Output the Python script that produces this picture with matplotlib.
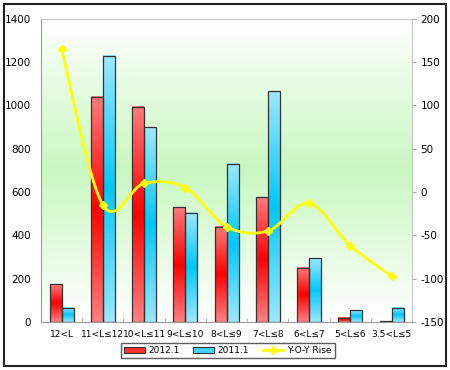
import numpy as np
import matplotlib
matplotlib.use("Agg")
import matplotlib.pyplot as plt
from matplotlib.colors import LinearSegmentedColormap
from matplotlib.patches import Rectangle
from matplotlib.lines import Line2D

plt.rcParams["axes.unicode_minus"] = False

## data
categories = ["12<L", "11<L≤12", "10<L≤11", "9<L≤10", "8<L≤9",
              "7<L≤8", "6<L≤7", "5<L≤6", "3.5<L≤5"]
sales_2012 = [175, 1040, 995, 530, 440, 575, 250, 20, 2]
sales_2011 = [65, 1230, 900, 505, 730, 1065, 295, 55, 65]
yoy_rise = [165, -15, 10, 5, -40, -45, -13, -62, -97]

## helpers
def smooth(xs, ys, n=20):
    # catmull-rom curve through the points (like excel's smoothed line)
    p = np.column_stack([xs, ys]).astype(float)
    p = np.vstack([p[0], p, p[-1]])
    out = []
    t = np.linspace(0, 1, n)[:, None]
    for i in range(1, len(p) - 2):
        p0, p1, p2, p3 = p[i - 1], p[i], p[i + 1], p[i + 2]
        seg = 0.5 * ((2 * p1) + (-p0 + p2) * t + (2 * p0 - 5 * p1 + 4 * p2 - p3) * t**2
                     + (-p0 + 3 * p1 - 3 * p2 + p3) * t**3)
        out.append(seg)
    out = np.vstack(out)
    return out[:, 0], out[:, 1]

def grad_bar(ax, x0, w, h, cmap):
    img = np.linspace(0, 1, 100).reshape(-1, 1)
    ax.imshow(img, cmap=cmap, extent=[x0, x0 + w, 0, h], aspect="auto",
              origin="upper", zorder=2, interpolation="bilinear")
    ax.add_patch(Rectangle((x0, 0), w, h, fill=False, edgecolor="#333333",
                           lw=0.9, zorder=3))

red_cmap = LinearSegmentedColormap.from_list("r", ["#ff7a7a", "#ff0000", "#ff8080"])
blue_cmap = LinearSegmentedColormap.from_list("b", ["#9be8ff", "#00c8f8", "#9be8ff"])
bg_cmap = LinearSegmentedColormap.from_list("g", ["#ffffff", "#c8f7c0", "#ffffff"])

## plot
fig = plt.figure(figsize=(4.5, 3.7), dpi=100)
fig.patches.append(Rectangle((0.008, 0.01), 0.984, 0.98, transform=fig.transFigure,
                             fill=False, edgecolor="#222222", lw=1.5))
ax = fig.add_axes([0.091, 0.130, 0.825, 0.819])

ax.imshow(np.linspace(0, 1, 200).reshape(-1, 1), cmap=bg_cmap, extent=[0, 1, 0, 1],
          transform=ax.transAxes, aspect="auto", zorder=0)

x = np.arange(len(categories))
w = 0.29
for i in range(len(categories)):
    grad_bar(ax, x[i] - w, w, sales_2012[i], red_cmap)
    grad_bar(ax, x[i], w, sales_2011[i], blue_cmap)

ax.set_xlim(-0.5, len(categories) - 0.5)
ax.set_ylim(0, 1400)
ax.set_yticks(range(0, 1401, 200))
ax.set_xticks(x)
ax.set_xticklabels(categories, fontsize=6.5)
ax.set_xticks(np.arange(-0.5, len(categories), 1), minor=True)
ax.tick_params(axis="x", which="major", length=0, pad=6)
ax.tick_params(axis="x", which="minor", length=3, direction="in", color="#aaaaaa")
ax.tick_params(axis="y", length=0, labelsize=7.5, pad=7)
for s in ax.spines.values():
    s.set_color("#c8c8c8")
ax.spines["left"].set_color("#999999")
ax.spines["bottom"].set_color("#999999")

ax2 = ax.twinx()
ax2.set_ylim(-150, 200)
ax2.set_yticks(range(-150, 201, 50))
ax2.tick_params(axis="y", length=3, color="#aaaaaa", labelsize=7.5, pad=3)
for s in ax2.spines.values():
    s.set_visible(False)
sx, sy = smooth(x, yoy_rise)
ax2.plot(sx, sy, color="#ffff00", lw=2, zorder=5)
ax2.plot(x, yoy_rise, linestyle="none", marker="D", ms=4, color="#ffff00", zorder=6)

handles = [Rectangle((0, 0), 1, 1, facecolor="#ff3030", edgecolor="#333333", lw=0.8),
           Rectangle((0, 0), 1, 1, facecolor="#40d4ff", edgecolor="#333333", lw=0.8),
           Line2D([], [], color="#ffff00", lw=2, marker="D", ms=4)]
fig.legend(handles, ["2012.1", "2011.1", "Y-O-Y Rise"], loc="center",
           bbox_to_anchor=(0.506, 0.052), ncol=3, fontsize=6.5, frameon=True,
           fancybox=False, edgecolor="#333333", handlelength=2.3, handleheight=0.7,
           columnspacing=1.5, handletextpad=0.4, borderpad=0.35)

fig.savefig("out.png", dpi=100)
